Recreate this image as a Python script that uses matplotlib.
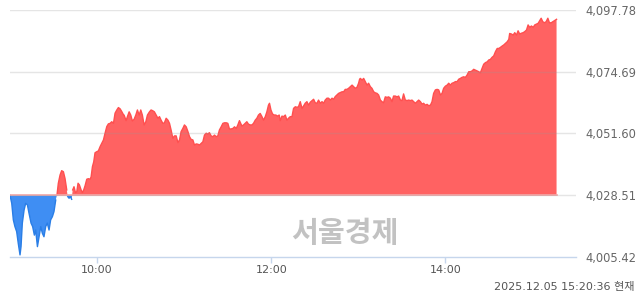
import numpy as np
import matplotlib.pyplot as plt

plt.rcParams['font.family'] = ['DejaVu Sans', 'Noto Sans CJK KR']

# previous close (baseline) and axis labels
prev_close = 4028.51
y_ticks = [4005.42, 4028.51, 4051.60, 4074.69, 4097.78]
x_ticks = [60, 180, 300]  # minutes after 09:00
x_labels = ['10:00', '12:00', '14:00']
stamp = '2025.12.05 15:20:36 현재'
watermark = '서울경제'

# minutes after 09:00
minutes = [
    0.0, 1.2, 2.3, 3.4, 4.6, 5.7, 6.9, 7.6, 8.5, 9.7, 10.8, 12.0, 13.1, 14.5, 15.6, 16.8, 17.7, 18.9,
    20.0, 21.2, 22.3, 23.4, 24.6, 25.7, 26.9, 28.0, 29.2, 30.3, 31.5, 32.4, 33.3, 34.5, 35.6, 36.8,
    37.9, 39.1, 39.8, 40.7, 41.6, 42.5, 43.2, 44.1, 45.1, 46.0, 46.9, 47.8, 49.0, 49.9, 50.8, 51.7,
    52.9, 54.0, 55.2, 55.9, 56.8, 57.7, 58.6, 59.8, 60.9, 62.1, 63.2, 64.4, 65.5, 66.7, 67.8, 69.0,
    70.1, 71.3, 72.4, 73.6, 74.7, 75.9, 77.0, 78.2,
    78.6, 80.0, 80.9, 82.1, 83.2, 84.3, 85.5, 86.7, 87.8, 89.0, 90.1, 91.2, 92.4, 93.6, 94.7, 96.1,
    97.2, 98.4, 99.5, 100.7, 101.9, 103.0, 104.1, 105.3, 106.4, 107.6, 108.8, 109.9, 111.0, 112.2,
    113.3, 114.5, 115.7, 116.8, 117.9, 119.1, 120.2, 121.4, 122.6, 123.7, 124.8, 126.0, 127.1, 128.3,
    129.4, 130.6, 131.7, 132.9, 134.0, 135.2, 136.3, 137.4, 138.6, 139.8, 140.9, 142.1, 143.2, 144.3,
    145.5, 146.7, 147.8, 149.0, 150.1, 151.2, 152.4, 153.6, 154.7, 155.9, 157.0, 158.1,
    159.8, 160.9, 162.1, 163.2, 164.3, 165.5, 166.7, 167.8, 169.0, 170.1, 171.2, 172.4, 173.6, 174.7,
    175.9, 177.0, 178.1, 178.8, 179.8, 180.9, 182.1, 183.2, 184.3, 185.5, 186.2, 187.4, 188.5, 189.7,
    190.8, 191.9, 193.1, 194.3, 195.4, 196.6, 197.7, 198.8, 200.0, 201.2, 202.3, 203.4, 204.6, 205.7,
    206.9, 208.1, 209.2, 210.3, 211.5, 212.6, 213.8, 215.0, 216.1, 217.2, 218.4, 219.5, 220.7, 221.9,
    223.0, 224.1, 225.3, 226.4, 227.6, 228.8, 229.9, 231.0, 232.2, 233.3, 234.5, 235.7, 236.8, 237.9,
    239.1, 240.2, 240.9,
    241.4, 242.6, 243.7, 244.8, 246.0, 247.1, 248.3, 249.4, 250.6, 251.7, 252.9, 254.0, 255.2, 256.3,
    257.4, 258.6, 259.8, 260.9, 262.1, 263.2, 264.3, 265.5, 266.7, 267.8, 269.0, 270.1, 271.2, 272.4,
    273.6, 274.7, 275.9, 277.0, 278.1, 279.3, 280.5, 281.6, 282.8, 283.9, 285.0, 286.2, 287.4, 288.5,
    289.7, 290.8, 291.9, 293.1, 294.3, 295.4, 296.6, 297.7, 298.8, 300.0, 301.2, 302.3, 303.4, 304.6,
    305.7, 306.9, 308.1, 309.2, 310.3, 311.5, 312.6, 313.8, 315.0, 316.1,
    317.2, 318.4, 319.5, 320.7, 321.9, 323.0, 324.1, 325.3, 326.4, 327.6, 328.8, 329.9, 331.0, 332.2,
    333.3, 334.5, 335.7, 336.8, 337.9, 339.1, 340.2, 341.4, 342.6, 343.7, 344.3, 345.5, 346.7, 347.8,
    349.0, 350.1, 351.2, 352.4, 353.6, 354.7, 355.9, 357.0, 358.1, 359.3, 360.5, 361.6, 362.8, 363.9,
    365.0, 366.0, 367.1, 368.3, 369.4, 370.6, 371.7, 372.9, 374.0, 375.2, 376.6,
]

kospi = [
    4028.5, 4025.5, 4019.3, 4016.8, 4014.9, 4010.5, 4006.2, 4009.3, 4018.1, 4023.0, 4025.5, 4024.9, 4021.8, 4018.1, 4016.8, 4013.6, 4015.5, 4009.3,
    4013.0, 4016.8, 4014.3, 4013.0, 4016.8, 4018.1, 4015.5, 4019.3, 4020.5, 4022.4, 4026.7, 4028.7, 4033.0, 4036.1, 4037.7, 4037.3,
    4034.8, 4030.5, 4028.0, 4027.4, 4028.0, 4027.0, 4030.5, 4031.7, 4029.5, 4029.8, 4033.0, 4032.4, 4030.5, 4029.5, 4030.5, 4032.0,
    4034.5, 4034.7, 4034.5, 4035.4, 4039.2, 4041.0, 4044.4, 4044.8, 4045.1, 4046.7, 4047.9, 4049.2, 4051.7, 4054.2, 4055.2, 4055.4,
    4056.0, 4055.4, 4059.2, 4060.4, 4061.3, 4060.8, 4059.8, 4058.6,
    4058.5, 4056.4, 4057.9, 4059.7, 4058.5, 4056.3, 4056.9, 4058.5, 4060.4, 4058.5, 4060.4, 4058.5, 4054.8, 4056.0, 4058.5, 4059.7,
    4060.4, 4060.1, 4059.7, 4058.5, 4057.3, 4057.9, 4056.6, 4055.4, 4055.6, 4057.3, 4056.6, 4055.4, 4052.9, 4049.8,
    4050.7, 4050.7, 4048.2, 4049.2, 4052.3, 4053.5, 4054.8, 4054.1, 4052.3, 4050.4, 4049.4, 4049.2, 4047.3, 4047.7,
    4047.6, 4047.3, 4047.9, 4048.5, 4051.0, 4051.7, 4051.4, 4051.9, 4050.7, 4050.4, 4051.0, 4050.4, 4050.7, 4052.9,
    4054.1, 4055.4, 4055.6, 4055.6, 4055.4, 4053.3, 4053.3, 4053.5, 4054.1, 4053.5, 4054.8, 4056.4,
    4054.4, 4054.8, 4055.4, 4056.0, 4055.1, 4054.8, 4054.8, 4055.4, 4056.6, 4057.3, 4058.5, 4059.1, 4057.9, 4056.6,
    4057.9, 4059.7, 4062.2, 4062.9, 4060.4, 4058.9, 4058.5, 4058.5, 4058.1, 4058.5, 4056.4, 4058.1, 4057.9, 4058.5,
    4056.6, 4057.3, 4057.9, 4057.9, 4061.0, 4061.6, 4061.4, 4061.6, 4063.5, 4061.0, 4061.9, 4062.9, 4063.5, 4062.2,
    4063.3, 4063.9, 4064.4, 4063.1, 4062.9, 4064.1, 4062.9, 4063.5, 4062.9, 4064.1, 4064.8, 4064.8, 4064.1, 4064.8,
    4064.4, 4065.4, 4066.0, 4066.6, 4066.9, 4067.2, 4067.2, 4068.1, 4068.1, 4068.5, 4069.1, 4069.7, 4069.1, 4068.5,
    4068.9, 4070.4, 4071.9,
    4072.2, 4071.6, 4072.2, 4071.0, 4069.7, 4070.4, 4069.1, 4068.5, 4067.2, 4066.8, 4066.6, 4066.0, 4064.1, 4063.5,
    4063.1, 4065.3, 4065.1, 4065.3, 4064.8, 4063.5, 4065.6, 4065.6, 4065.3, 4065.6, 4064.1, 4063.9, 4066.4, 4064.1,
    4063.9, 4064.1, 4063.9, 4064.1, 4063.5, 4062.9, 4063.5, 4064.1, 4063.5, 4062.6, 4062.9, 4062.2, 4062.5, 4062.0,
    4062.2, 4063.5, 4066.6, 4067.9, 4068.1, 4067.9, 4066.0, 4066.6, 4068.5, 4069.3, 4069.7, 4070.4, 4069.7, 4070.4,
    4070.6, 4071.0, 4071.0, 4071.9, 4072.2, 4072.6, 4072.8, 4072.6, 4073.5, 4074.7,
    4074.7, 4075.0, 4075.6, 4075.3, 4075.0, 4074.7, 4074.3, 4076.0, 4077.5, 4078.1, 4078.4, 4079.1, 4079.3, 4080.1,
    4080.6, 4082.2, 4083.4, 4083.4, 4083.8, 4084.3, 4084.7, 4085.3, 4085.9, 4086.8, 4089.0, 4088.8, 4088.4, 4089.3,
    4088.4, 4090.0, 4088.8, 4089.1, 4089.3, 4089.7, 4090.3, 4092.2, 4091.3, 4091.8, 4091.3, 4092.2, 4092.5, 4092.8,
    4093.8, 4094.7, 4093.4, 4093.0, 4093.4, 4094.7, 4093.0, 4093.0, 4093.4, 4093.8, 4094.3,
]

t = np.array(minutes)
v = np.array(kospi)

fig = plt.figure(figsize=(6.4, 2.94), dpi=100)
ax = fig.add_axes([10 / 640, 1 - 257 / 294, 566 / 640, 247 / 294])

up = v >= prev_close
ax.fill_between(t, v, prev_close, where=up, interpolate=True, color='#ff6262', lw=0, zorder=2)
ax.fill_between(t, v, prev_close, where=~up, interpolate=True, color='#3f8ef3', lw=0, zorder=2)
ax.plot(t, np.where(up, v, np.nan), color='#ff4f4f', lw=1.0, zorder=3)
ax.plot(t, np.where(~up, v, np.nan), color='#2a7ee6', lw=1.0, zorder=3)
ax.plot([t[0], t[-1]], [prev_close, prev_close], color='#f7a8a8', lw=1.2, zorder=3)

for y in y_ticks[1:]:
    ax.axhline(y, color='#999999', alpha=0.25, lw=1, zorder=4)

ax.set_xlim(0, 390)
ax.set_ylim(y_ticks[0], y_ticks[-1])
ax.set_yticks(y_ticks)
ax.set_yticklabels([f'{y:,.2f}' for y in y_ticks])
ax.set_xticks(x_ticks)
ax.set_xticklabels(x_labels)

for s in ['top', 'left', 'right']:
    ax.spines[s].set_visible(False)
ax.spines['bottom'].set_color('#c6d6ec')
ax.spines['bottom'].set_linewidth(1)

ax.tick_params(axis='y', left=False, right=False, labelleft=False, labelright=True,
               pad=3, labelsize=8.3, labelcolor='#666666')
ax.tick_params(axis='x', direction='out', length=4, color='#c6d6ec', width=1,
               pad=2, labelsize=8, labelcolor='#555555')

ax.text(0.592, 0.097, watermark, transform=ax.transAxes, ha='center', va='center',
        fontsize=21, fontweight='bold', color='#c2c2c2', family='Noto Sans CJK KR', zorder=1)

fig.text(635 / 640, 1 - 287 / 294, stamp, ha='right', va='center', fontsize=8, color='#555555')

fig.savefig('out.png', dpi=100)
